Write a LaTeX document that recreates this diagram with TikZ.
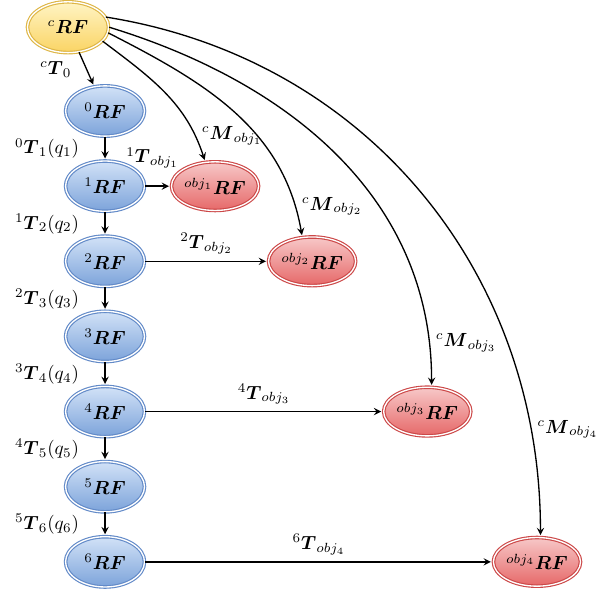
\documentclass[tikz,border=0pt]{standalone}
\usepackage{amsmath}
\usepackage{amsfonts}
\usepackage{tikz}
\usetikzlibrary{arrows, shapes.geometric, positioning}
\usepackage{xcolor}

\definecolor{camTop}{RGB}{255,244,196}
\definecolor{camBot}{RGB}{250,212,100}
\definecolor{camLine}{RGB}{222,182,70}
\definecolor{frmTop}{RGB}{210,226,247}
\definecolor{frmBot}{RGB}{124,163,218}
\definecolor{frmLine}{RGB}{98,138,200}
\definecolor{objTop}{RGB}{247,200,200}
\definecolor{objBot}{RGB}{230,104,104}
\definecolor{objLine}{RGB}{204,72,72}

\begin{document}
\begin{tikzpicture}[
            > = stealth, % arrow head style
            shorten > = 1pt, % don't touch arrow head to node
            node distance = 1.39cm, % distance between frames
            line width = 0.7pt % line style
        ]

        \tikzstyle{camstate}=[
            ellipse, draw = camLine, semithick, double = white, double distance = 0.7pt,
            top color = camTop, bottom color = camBot,
            minimum width = 1.5cm, minimum height = 0.94cm, inner sep = 0pt
        ]
        \tikzstyle{framestate}=[
            ellipse, draw = frmLine, semithick, double = white, double distance = 0.7pt,
            top color = frmTop, bottom color = frmBot,
            minimum width = 1.46cm, minimum height = 0.93cm, inner sep = 0pt
        ]
        \tikzstyle{objstate}=[
            ellipse, draw = objLine, semithick, double = white, double distance = 0.7pt,
            top color = objTop, bottom color = objBot,
            minimum width = 1.46cm, minimum height = 0.9cm, inner sep = 0pt
        ]

        % camera
        \node[camstate] (cRF) at (0,0) {$^{c}\boldsymbol{RF}$};

        % catena dei frame
        \node[framestate] (rf0) [on grid, below right=1.55cm and 0.685cm of cRF] {$^{0}\boldsymbol{RF}$};
        \node[framestate] (rf1) [below of=rf0] {$^{1}\boldsymbol{RF}$};
        \node[framestate] (rf2) [below of=rf1] {$^{2}\boldsymbol{RF}$};
        \node[framestate] (rf3) [below of=rf2] {$^{3}\boldsymbol{RF}$};
        \node[framestate] (rf4) [below of=rf3] {$^{4}\boldsymbol{RF}$};
        \node[framestate] (rf5) [below of=rf4] {$^{5}\boldsymbol{RF}$};
        \node[framestate] (rf6) [below of=rf5] {$^{6}\boldsymbol{RF}$};

        \path[->] (cRF) edge node[left=0.15cm] {$^{c}\boldsymbol{T}_0$} (rf0);
        \path[->] (rf0) edge node[left=0.35cm] {$^{0}\boldsymbol{T}_1(q_1)$} (rf1);
        \path[->] (rf1) edge node[left=0.35cm] {$^{1}\boldsymbol{T}_2(q_2)$} (rf2);
        \path[->] (rf2) edge node[left=0.35cm] {$^{2}\boldsymbol{T}_3(q_3)$} (rf3);
        \path[->] (rf3) edge node[left=0.35cm] {$^{3}\boldsymbol{T}_4(q_4)$} (rf4);
        \path[->] (rf4) edge node[left=0.35cm] {$^{4}\boldsymbol{T}_5(q_5)$} (rf5);
        \path[->] (rf5) edge node[left=0.35cm] {$^{5}\boldsymbol{T}_6(q_6)$} (rf6);

        % oggetti
        \node[objstate] (obj1) [right of=rf1, node distance=2.035cm] {$^{obj_1}\boldsymbol{RF}$};
        \node[objstate] (obj2) [right of=rf2, node distance=3.83cm] {$^{obj_2}\boldsymbol{RF}$};
        \node[objstate] (obj3) [right of=rf4, node distance=5.96cm] {$^{obj_3}\boldsymbol{RF}$};
        \node[objstate] (obj4) [right of=rf6, node distance=7.99cm] {$^{obj_4}\boldsymbol{RF}$};

        \path[->] (rf1) edge node[above=0.2cm, xshift=-0.1cm] {$^{1}\boldsymbol{T}_{obj_1}$} (obj1);
        \path[->] (rf2) edge node[above] {$^{2}\boldsymbol{T}_{obj_2}$} (obj2);
        \path[->] (rf4) edge node[above] {$^{4}\boldsymbol{T}_{obj_3}$} (obj3);
        \path[->] (rf6) edge node[above] {$^{6}\boldsymbol{T}_{obj_4}$} (obj4);

        % misure dalla camera
        \path[->] (cRF.-22) edge[out=-37, in=108] node[pos=0.84, right] {$^{c}\boldsymbol{M}_{obj_1}$} (obj1.112);
        \path[->] (cRF.-8) edge[out=-27, in=100] node[pos=0.9, right] {$^{c}\boldsymbol{M}_{obj_2}$} (obj2.112);
        \path[->] (cRF.0) edge[out=-17, in=90] node[pos=0.92, right] {$^{c}\boldsymbol{M}_{obj_3}$} (obj3.80);
        \path[->] (cRF.15) edge[out=-9, in=90] node[pos=0.86, right] {$^{c}\boldsymbol{M}_{obj_4}$} (obj4.82);

        \useasboundingbox (-1.258,-10.49) rectangle (10.10,0.4995);
\end{tikzpicture}
\end{document}
